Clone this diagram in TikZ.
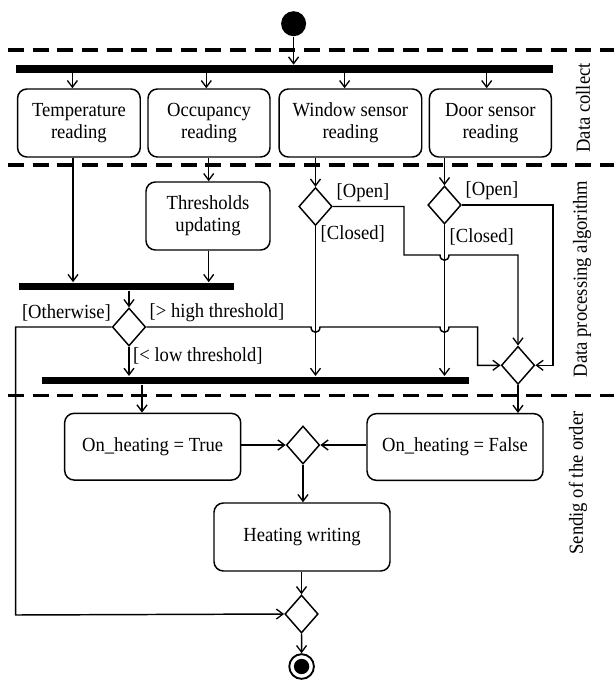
\documentclass[tikz,border=0pt]{standalone}
\usepackage{fontspec}
\setmainfont{Liberation Serif}[FakeStretch=0.93]
\usetikzlibrary{arrows.meta,shapes.geometric,calc}
\begin{document}
\begin{tikzpicture}[x=0.75pt,y=-0.75pt,
  font=\fontsize{15}{16.3}\selectfont,
  line width=1.1pt,
  arr/.style={-{Straight Barb[length=5pt,width=7.5pt,line width=1pt]}},
  act/.style={draw,rounded corners=7pt,align=center,inner sep=0pt,
              minimum height=51pt},
  bar/.style={fill=black,inner sep=0pt,minimum height=5.4pt},
  choice/.style={draw,diamond,inner sep=0pt,minimum width=25pt,minimum height=28.5pt},
  lane/.style={dashed,line width=2.3pt,dash pattern=on 12pt off 6.5pt},
  guard/.style={inner sep=0pt,anchor=west},
  lanelabel/.style={rotate=90,inner sep=0pt}]
\useasboundingbox (0,0) rectangle (614,680);

% swimlane separators
\draw[lane] (8,50) -- (614,50);
\draw[lane] (8,165) -- (614,165);
\draw[lane] (8,395.5) -- (614,395.5);

% lane titles
\node[lanelabel] (l1) at (583,108) {Data collect};
\node[lanelabel] (l2) at (582,279) {Data processing algorithm};
\node[lanelabel] (l3) at (578,483) {Sendig of the order};

% initial node and first fork
\node[circle,fill=black,inner sep=0pt,minimum size=18.75pt] (start) at (293.6,23.7) {};
\node[bar,minimum width=402.5pt] (bar1) at (284.7,69) {};

% reading actions
\node[act,minimum width=92pt] (temp) at (78.9,123) {Temperature\\reading};
\node[act,minimum width=91.5pt] (occ) at (209,123) {Occupancy\\reading};
\node[act,minimum width=107pt] (win) at (350.4,123) {Window sensor\\reading};
\node[act,minimum width=91.5pt] (door) at (490.4,123) {Door sensor\\reading};
\node[act,minimum width=93pt] (thr) at (208,216) {Thresholds\\updating};

% joins
\node[bar,minimum width=161.5pt] (bar2) at (126.4,286.5) {};
\node[bar,minimum width=320pt] (bar3) at (255.5,380.3) {};

% decisions and merges
\node[choice] (d1) at (129,327) {};
\node[choice] (dw) at (315.5,206.5) {};
\node[choice] (dd) at (444.5,205) {};
\node[choice] (dm) at (518,365.3) {};
\node[choice] (dc) at (303,445) {};
\node[choice] (df) at (301.5,614) {};

% order actions
\node[act,minimum width=132pt,minimum height=50pt] (tru) at (152.7,446.7) {On\_heating = True};
\node[act,minimum width=132pt,minimum height=50pt] (fal) at (455,447) {On\_heating = False};
\node[act,minimum width=132pt] (hw) at (302,537) {Heating writing};

% final node
\node[circle,draw,line width=1.4pt,inner sep=0pt,minimum size=18.5pt] (end) at (301.6,666.5) {};
\node[circle,fill=black,inner sep=0pt,minimum size=11.5pt] (endin) at (end.center) {};

% column positions of the vertical flows
\coordinate (xa) at (72.4,0);
\coordinate (xb) at (206.3,0);
\coordinate (xc) at (344.6,0);
\coordinate (xd) at (486.7,0);
\coordinate (xt) at (73,0);
\coordinate (xo) at (208.7,0);
\coordinate (xw) at (315.5,0);
\coordinate (xdd) at (444.5,0);
\coordinate (xl) at (142,0);
\coordinate (xleft) at (15.7,0);
\coordinate (xopen) at (404,0);
\coordinate (yopen) at (0,255);
\coordinate (xright) at (553,0);
\coordinate (xhigh) at (477.7,0);
\coordinate (ybottom) at (0,615);

% data collection
\draw[arr] (start) -- (start |- bar1.north);
\draw[arr] (bar1.south -| xa) -- (temp.north -| xa);
\draw[arr] (bar1.south -| xb) -- (occ.north -| xb);
\draw[arr] (bar1.south -| xc) -- (win.north -| xc);
\draw[arr] (bar1.south -| xd) -- (door.north -| xd);

% data processing
\draw[arr] (temp.south -| xt) -- (bar2.north -| xt);
\draw[arr] (occ.south -| xo) -- (thr.north -| xo);
\draw[arr] (thr.south -| xo) -- (bar2.north -| xo);
\draw[arr] (bar2.south -| d1) -- (d1.north);
\draw[arr] (win.south -| xw) -- (dw.north);
\draw[arr] (door.south -| xdd) -- (dd.north);

\draw[arr] (dw.south) -- (bar3.north -| dw);
\draw[arr] (dd.south) -- (bar3.north -| dd);
\draw[arr] (d1.south) -- (bar3.north -| d1);

% window open
\draw[arr] (dw.east) -- (dw.east -| xopen) -- (yopen -| xopen)
  -- ($(yopen -| xdd)+(-4.5,0)$) .. controls +(0,7) and +(0,7) .. ++(9,0)
  -- (yopen -| dm) -- (dm.north);
% door open
\draw[arr] (dd.east) -- (dd.east -| xright) -- (dm.east -| xright) -- (dm.east);
% above high threshold
\draw[arr] (d1.east) -- ($(d1.east -| xw)+(-4.5,0)$) .. controls +(0,7) and +(0,7) .. ++(9,0)
  -- ($(d1.east -| xdd)+(-4.5,0)$) .. controls +(0,7) and +(0,7) .. ++(9,0)
  -- (d1.east -| xhigh) -- (dm.west -| xhigh) -- (dm.west);
% otherwise
\draw[arr] (d1.west) -- (d1.west -| xleft) -- (ybottom -| xleft) -- (df.west);

% guards
\node[guard] (g1) at (336,193) {[Open]};
\node[guard] (g2) at (320,234) {[Closed]};
\node[guard] (g3) at (465,191) {[Open]};
\node[guard] (g4) at (449,236.5) {[Closed]};
\node[guard,anchor=east] (g5) at (111.6,313) {[Otherwise]};
\node[guard] (g6) at (149,313) {[> high threshold]};
\node[guard] (g7) at (132.5,355.5) {[< low threshold]};

% sending of the order
\draw[arr] (bar3.south -| xl) -- (tru.north -| xl);
\draw[arr] (dm.south) -- (fal.north -| dm);
\draw[arr] (tru.east |- dc) -- (dc.west);
\draw[arr] (fal.west |- dc) -- (dc.east);
\draw[arr] (dc.south) -- (hw.north -| dc);
\draw[arr] (hw.south -| df) -- (df.north);
\draw[arr] (df.south) -- (end.north);
\end{tikzpicture}
\end{document}
